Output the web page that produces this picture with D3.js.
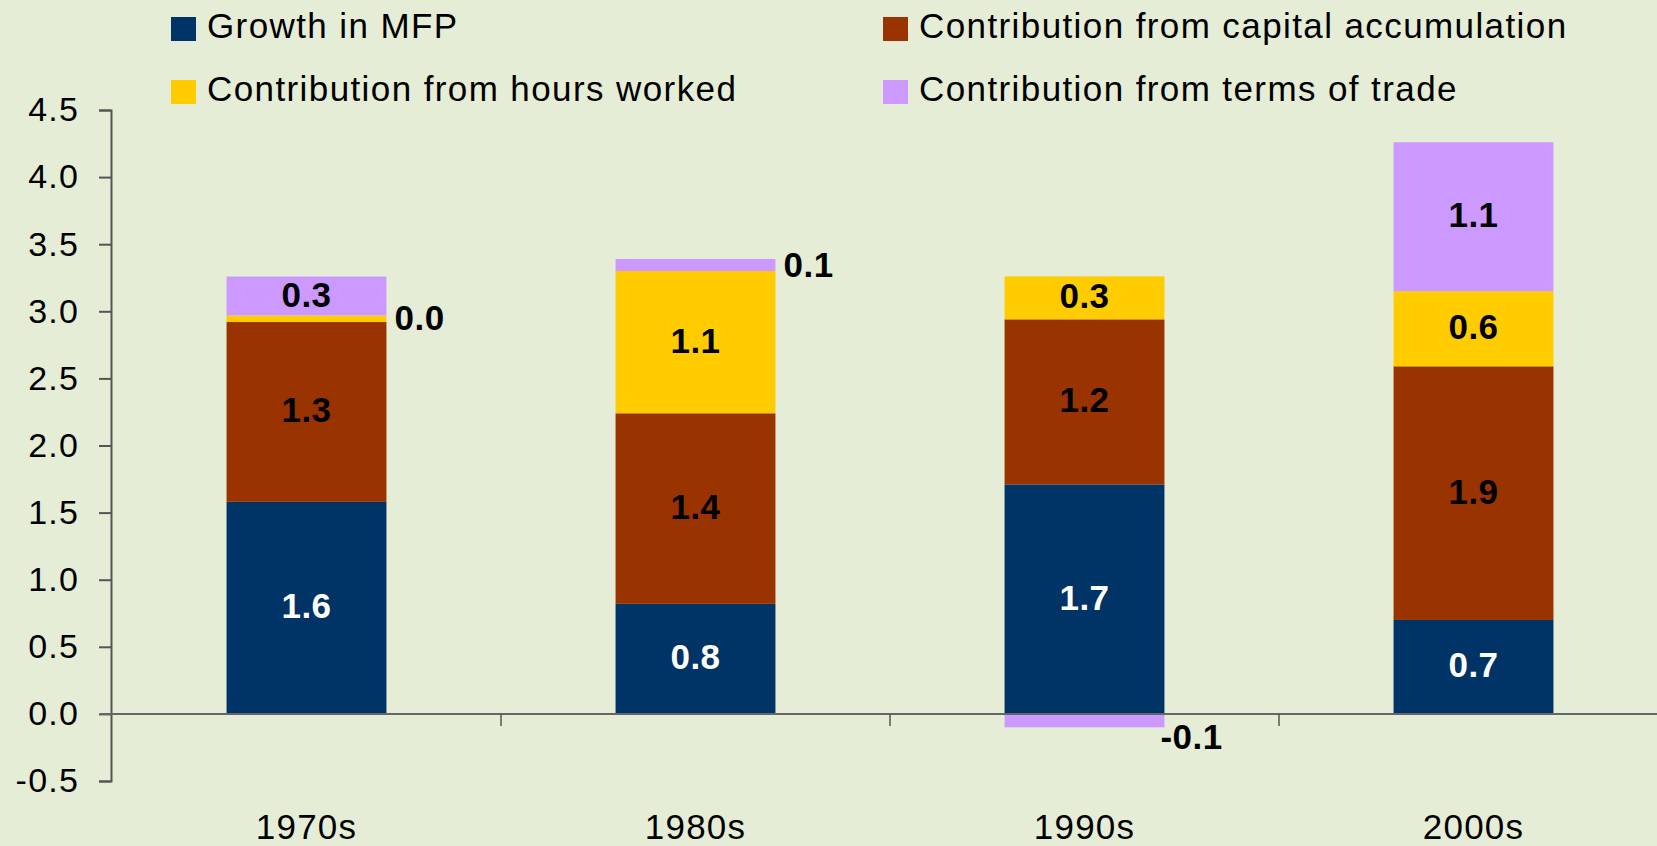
<!DOCTYPE html>
<html>
<head>
<meta charset="utf-8">
<script src="https://cdn.jsdelivr.net/npm/d3@7"></script>
<style>
  html, body { margin: 0; padding: 0; background: #e6edd6; }
  svg { display: block; font-family: "Liberation Sans", Arial, sans-serif; }
</style>
</head>
<body>
<script>
var decades = ["1970s", "1980s", "1990s", "2000s"];

var seriesNames = [
    "Growth in MFP",
    "Contribution from capital accumulation",
    "Contribution from hours worked",
    "Contribution from terms of trade"
];
var seriesColors = ["#003366", "#993300", "#ffcc00", "#cc99ff"];
var labelColors = ["#ffffff", "#000000", "#000000", "#000000"];

var mfp = [1.58, 0.82, 1.71, 0.70];
var capital = [1.34, 1.42, 1.23, 1.89];
var hours = [0.049, 1.06, 0.32, 0.56];
var termsOfTrade = [0.29, 0.09, -0.1, 1.11];

var yTicks = [-0.5, 0, 0.5, 1, 1.5, 2, 2.5, 3, 3.5, 4, 4.5];

var width = 1657,
    height = 846;

var svg = d3.select("body").append("svg")
    .attr("width", width)
    .attr("height", height);

svg.append("rect")
    .attr("width", width)
    .attr("height", height)
    .attr("fill", "#e6edd6");

var x = d3.scaleBand()
    .domain(decades)
    .range([112, 1668])
    .paddingInner(0.589)
    .paddingOuter(0.2945);

var y = d3.scaleLinear()
    .domain([-0.5, 4.5])
    .range([781, 110]);

// plain hyphen for negatives, like the original
var fmt = function(v){ return d3.format(".1f")(v).replace("\u2212", "-"); };

// stack, positive values upward and negative below zero
var allSeries = [mfp, capital, hours, termsOfTrade];
var segs = [];
decades.forEach(function(dec, i){
    var pos = 0, neg = 0;
    allSeries.forEach(function(s, k){
        var v = s[i], y0, y1;
        if (v >= 0) { y0 = pos; y1 = pos + v; pos = y1; }
        else { y0 = neg + v; y1 = neg; neg = y0; }
        segs.push({dec: dec, k: k, v: v, y0: y0, y1: y1});
    });
});

svg.append("g").selectAll("rect")
    .data(segs)
    .enter().append("rect")
    .attr("x", function(d){ return x(d.dec); })
    .attr("width", x.bandwidth())
    .attr("y", function(d){ return y(d.y1); })
    .attr("height", function(d){ return y(d.y0) - y(d.y1); })
    .attr("fill", function(d){ return seriesColors[d.k]; });

// y axis
var yAxis = d3.axisLeft(y)
    .tickValues(yTicks)
    .tickFormat(fmt)
    .tickSizeInner(12)
    .tickSizeOuter(12)
    .tickPadding(20);

var ya = svg.append("g")
    .attr("transform", "translate(111,0)")
    .call(yAxis);
ya.selectAll("path, line").attr("stroke", "#555").attr("stroke-width", 2);
ya.selectAll("text")
    .attr("font-size", 34)
    .attr("letter-spacing", 1.2)
    .attr("fill", "#000")
    .attr("font-family", "Liberation Sans, Arial, sans-serif");

// category axis at zero
var xa = svg.append("g")
    .attr("transform", "translate(0," + y(0) + ")");
xa.append("line")
    .attr("x1", 100).attr("x2", width)
    .attr("stroke", "#666").attr("stroke-width", 2);

// ticks between categories
var step = x.step();
xa.selectAll(".sep")
    .data(decades.slice(1))
    .enter().append("line")
    .attr("x1", function(d){ return x(d) - (step - x.bandwidth()) / 2; })
    .attr("x2", function(d){ return x(d) - (step - x.bandwidth()) / 2; })
    .attr("y1", 0).attr("y2", 12)
    .attr("stroke", "#555").attr("stroke-width", 1.5);

// category labels
svg.append("g").selectAll("text")
    .data(decades)
    .enter().append("text")
    .attr("x", function(d){ return x(d) + x.bandwidth() / 2; })
    .attr("y", 839)
    .attr("text-anchor", "middle")
    .attr("font-size", 35)
    .attr("letter-spacing", 1.2)
    .text(function(d){ return d; });

// data labels
svg.append("g").selectAll("text")
    .data(segs)
    .enter().append("text")
    .each(function(d){
        var t = d3.select(this);
        var h = y(d.y0) - y(d.y1);
        var right = x(d.dec) + x.bandwidth();
        if (h >= 25) {
            t.attr("x", x(d.dec) + x.bandwidth() / 2)
             .attr("y", (y(d.y0) + y(d.y1)) / 2)
             .attr("dy", "0.3em")
             .attr("text-anchor", "middle")
             .attr("fill", labelColors[d.k]);
        } else if (d.v < 0) {
            t.attr("x", right - 4)
             .attr("y", y(d.y0) - 4)
             .attr("dy", "0.72em")
             .attr("text-anchor", "start")
             .attr("fill", "#000");
        } else {
            t.attr("x", right + 8)
             .attr("y", (y(d.y0) + y(d.y1)) / 2)
             .attr("dy", "0.33em")
             .attr("text-anchor", "start")
             .attr("fill", "#000");
        }
    })
    .attr("font-size", 35)
    .attr("font-weight", "bold")
    .attr("letter-spacing", 0.5)
    .text(function(d){ return fmt(d.v); });

// legend
var legendPos = [[171, 17], [883, 17], [171, 80], [883, 80]];
var lg = svg.append("g").selectAll("g")
    .data([0, 1, 2, 3])
    .enter().append("g")
    .attr("transform", function(d, i){ return "translate(" + legendPos[i][0] + "," + legendPos[i][1] + ")"; });
lg.append("rect")
    .attr("width", 25).attr("height", 24)
    .attr("fill", function(d){ return seriesColors[d]; });
lg.append("text")
    .attr("x", 36)
    .attr("y", 21)
    .attr("font-size", 35)
    .attr("letter-spacing", 1.4)
    .text(function(d){ return seriesNames[d]; });
</script>
</body>
</html>
